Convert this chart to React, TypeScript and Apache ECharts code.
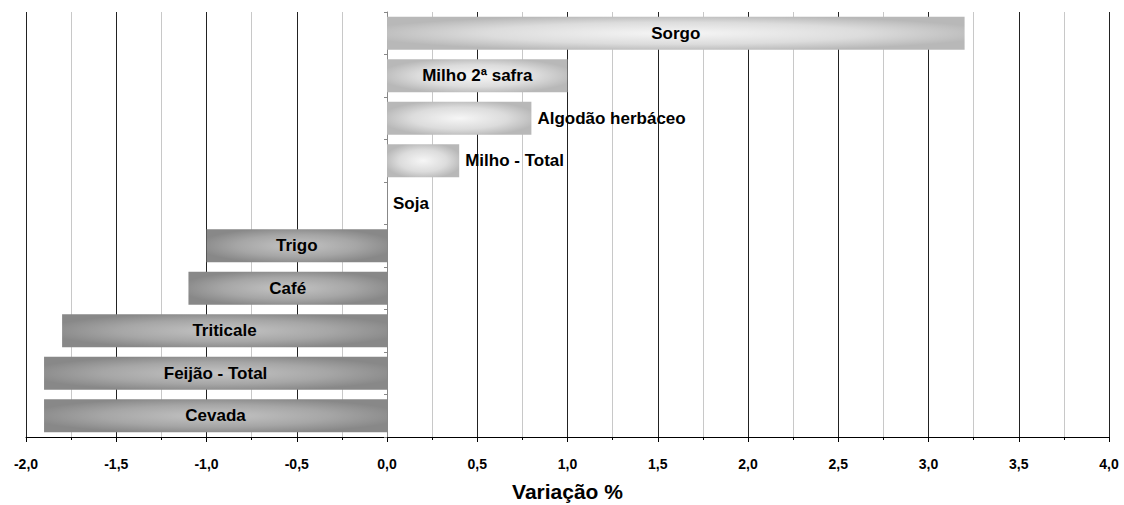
import React, { useEffect, useRef } from "react";
import * as echarts from "echarts";

const categories = [
  "Cevada",
  "Feijão - Total",
  "Triticale",
  "Café",
  "Trigo",
  "Soja",
  "Milho - Total",
  "Algodão herbáceo",
  "Milho 2ª safra",
  "Sorgo",
];
const values = [-1.9, -1.9, -1.8, -1.1, -1.0, 0.0, 0.4, 0.8, 1.0, 3.2];
const outsideLabels = ["Soja", "Milho - Total", "Algodão herbáceo"];
const xTicks = { min: -2, max: 4, interval: 0.5 };
const axisTitle = "Variação %";

const FONT = "'Liberation Sans', Arial, sans-serif";

export default function App() {
  const ref = useRef<HTMLDivElement>(null);
  useEffect(() => {
    if (!ref.current) return;
    const chart = echarts.init(ref.current, undefined, { renderer: "svg" });
    const posFill = new echarts.graphic.RadialGradient(0.5, 0.5, 0.55, [
      { offset: 0, color: "#f6f6f6" },
      { offset: 0.6, color: "#dcdcdc" },
      { offset: 1, color: "#b8b8b8" },
    ]);
    const negFill = new echarts.graphic.RadialGradient(0.5, 0.5, 0.55, [
      { offset: 0, color: "#c4c4c4" },
      { offset: 0.6, color: "#a6a6a6" },
      { offset: 1, color: "#888888" },
    ]);
    const data = values.map((v, i) => {
      const name = categories[i];
      const outside = outsideLabels.includes(name);
      return {
        value: v,
        itemStyle: { color: v >= 0 ? posFill : negFill },
        label: {
          show: true,
          formatter: name,
          position: outside ? "right" : "inside",
          distance: 6,
        },
      };
    });
    chart.setOption({
      animation: false,
      textStyle: { fontFamily: FONT },
      grid: {
        left: 26,
        right: 15,
        top: 12,
        bottom: 68,
        containLabel: false,
        outerBoundsMode: "none",
      },
      xAxis: {
        type: "value",
        min: xTicks.min,
        max: xTicks.max,
        interval: xTicks.interval,
        name: axisTitle,
        nameLocation: "middle",
        nameGap: 44,
        nameTextStyle: {
          fontFamily: FONT,
          fontWeight: "bold",
          fontSize: 21,
          color: "#000",
        },
        axisLine: { show: true, onZero: false, lineStyle: { color: "#000", width: 1 } },
        axisTick: { show: true, length: 5, lineStyle: { color: "#000" } },
        minorTick: { show: true, splitNumber: 2, length: 3, lineStyle: { color: "#000" } },
        axisLabel: {
          fontFamily: FONT,
          fontWeight: "bold",
          fontSize: 14,
          color: "#000",
          margin: 20,
          formatter: (v: number) => v.toFixed(1).replace(".", ","),
        },
        splitLine: { show: true, lineStyle: { color: "#222", width: 1 } },
        minorSplitLine: { show: true, lineStyle: { color: "#c8c8c8", width: 1 } },
      },
      yAxis: {
        type: "category",
        data: categories,
        axisLine: { show: true, onZero: true, lineStyle: { color: "#888", width: 1 } },
        axisTick: { show: true, length: 3, lineStyle: { color: "#888" } },
        axisLabel: { show: false },
        splitLine: { show: false },
      },
      series: [
        {
          type: "bar",
          data,
          barWidth: "78%",
          label: {
            color: "#000",
            fontFamily: FONT,
            fontWeight: "bold",
            fontSize: 17,
          },
        },
      ],
    });
    return () => chart.dispose();
  }, []);
  return (
    <div
      ref={ref}
      style={{ position: "absolute", left: 0, top: 0, width: 1124, height: 505 }}
    />
  );
}
